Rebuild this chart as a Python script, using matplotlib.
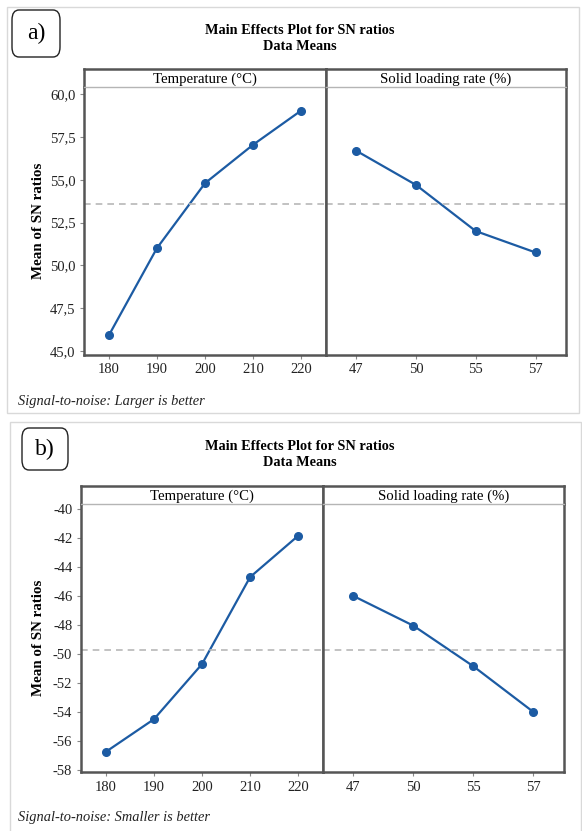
import numpy as np
import matplotlib
matplotlib.use('Agg')
import matplotlib.pyplot as plt
from matplotlib.patches import FancyBboxPatch, Rectangle

# factor levels
temp_levels = ['180', '190', '200', '210', '220']
solid_levels = ['47', '50', '55', '57']

# a) larger is better
sn_a_temp = [45.9, 51.0, 54.8, 57.05, 59.05]
sn_a_solid = [56.7, 54.7, 52.0, 50.75]
yticks_a = [45.0, 47.5, 50.0, 52.5, 55.0, 57.5, 60.0]

# b) smaller is better
sn_b_temp = [-56.75, -54.5, -50.7, -44.7, -41.85]
sn_b_solid = [-46.0, -48.05, -50.85, -54.0]
yticks_b = [-58, -56, -54, -52, -50, -48, -46, -44, -42, -40]

W, H = 582, 831
plt.rcParams['font.family'] = ['Liberation Serif', 'DejaVu Serif']

fig = plt.figure(figsize=(W / 100, H / 100), dpi=100)

FRAME = '#555555'
BLUE = '#1c5ba3'


def px(x0, y0, x1, y1):
    return [x0 / W, 1 - y1 / H, (x1 - x0) / W, (y1 - y0) / H]


def fig_rect(x0, y0, x1, y1, **kw):
    r = Rectangle((x0 / W, 1 - y1 / H), (x1 - x0) / W, (y1 - y0) / H,
                  transform=fig.transFigure, fill=False, **kw)
    fig.patches.append(r)


def label_box(x0, y0, x1, y1, txt):
    b = FancyBboxPatch((x0 / W, 1 - y1 / H), (x1 - x0) / W, (y1 - y0) / H,
                       boxstyle='round,pad=0,rounding_size=0.012',
                       transform=fig.transFigure, facecolor='white',
                       edgecolor='#222222', linewidth=1.0)
    fig.patches.append(b)
    fig.text((x0 + x1) / 2 / W, 1 - (y0 + y1) / 2 / H, txt, ha='center',
             va='center', fontsize=17)


def strip(box, txt):
    s = fig.add_axes(px(*box))
    s.set_xticks([])
    s.set_yticks([])
    for k in ['top', 'left', 'right']:
        s.spines[k].set_color(FRAME)
        s.spines[k].set_linewidth(1.8)
    s.spines['bottom'].set_color('#b5b5b5')
    s.spines['bottom'].set_linewidth(1.0)
    s.text(0.5, 0.45, txt, ha='center', va='center', fontsize=10.6,
           transform=s.transAxes)


def panel(x0, xm, x1, top, stripb, bottom, vt, vs, yticks, ylim, fmt,
          title_y, note, note_y, ylab_x):
    fig.text(0.515, 1 - title_y / H, 'Main Effects Plot for SN ratios',
             ha='center', va='center', fontsize=10.3, fontweight='bold')
    fig.text(0.515, 1 - (title_y + 17) / H, 'Data Means',
             ha='center', va='center', fontsize=10.3, fontweight='bold')
    mean = np.mean(vt)
    axl = fig.add_axes(px(x0, stripb, xm, bottom))
    axr = fig.add_axes(px(xm, stripb, x1, bottom), sharey=axl)
    for ax, vals, levs in [(axl, vt, temp_levels), (axr, vs, solid_levels)]:
        xs = np.arange(len(levs))
        ax.plot(xs, vals, color=BLUE, lw=1.6, marker='o', ms=5.5)
        ax.axhline(mean, color='#b8b8b8', lw=1.2, ls=(0, (4, 3)))
        ax.set_xticks(xs)
        ax.set_xticklabels(levs)
        ax.set_xlim(-0.51, len(levs) - 0.49)
        for k in ['bottom', 'left', 'right']:
            ax.spines[k].set_color(FRAME)
            ax.spines[k].set_linewidth(1.8)
        ax.spines['top'].set_visible(False)
        ax.tick_params(axis='x', length=3, color='#888888', labelsize=10.5,
                       labelcolor='#222222', pad=3)
    axl.set_ylim(*ylim)
    axl.set_yticks(yticks)
    axl.set_yticklabels([fmt(v) for v in yticks])
    axl.tick_params(axis='y', length=3, color='#888888', labelsize=10.5,
                    labelcolor='#222222')
    axr.tick_params(axis='y', left=False, labelleft=False)
    fig.text(ylab_x / W, 1 - (stripb + bottom) / 2 / H, 'Mean of SN ratios',
             rotation=90, ha='center', va='center', fontsize=10.8,
             fontweight='bold')
    strip([x0, top, xm, stripb], 'Temperature (°C)')
    strip([xm, top, x1, stripb], 'Solid loading rate (%)')
    fig.text(18 / W, 1 - note_y / H, note, ha='left', va='center',
             fontsize=10.4, style='italic', color='#222222')


# outer borders of the two sub-figures
fig_rect(7, 7, 579, 413, edgecolor='#d9d9d9', linewidth=1.0)
fig_rect(10, 422, 581, 835, edgecolor='#d9d9d9', linewidth=1.0)

panel(84.3, 325.7, 566, 69.3, 87.3, 354.7, sn_a_temp, sn_a_solid, yticks_a,
      (44.77, 60.41), lambda v: f'{v:.1f}'.replace('.', ','),
      30, 'Signal-to-noise: Larger is better', 401, 38)
panel(81.3, 322.7, 564, 486, 504, 772.3, sn_b_temp, sn_b_solid, yticks_b,
      (-58.16, -39.66), lambda v: f'{v:d}',
      446, 'Signal-to-noise: Smaller is better', 818, 38)

label_box(12, 10, 60, 57, 'a)')
label_box(22, 428, 68, 470, 'b)')

fig.savefig('out.png', dpi=100)
